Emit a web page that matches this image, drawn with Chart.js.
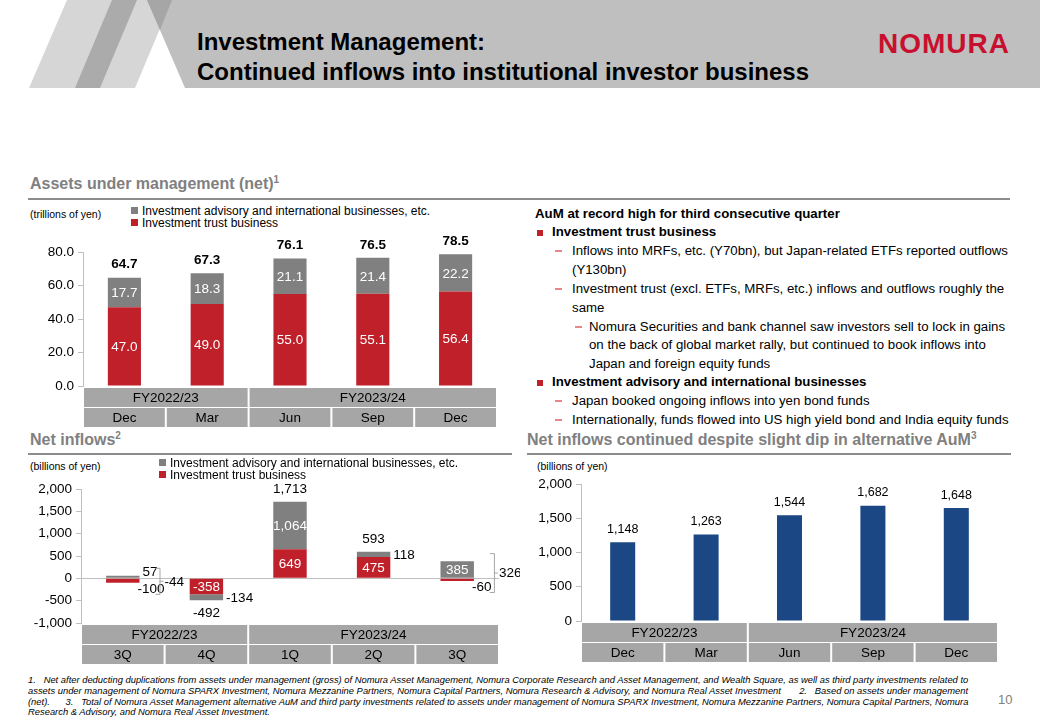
<!DOCTYPE html>
<html>
<head>
<meta charset="utf-8">
<script src="https://cdn.jsdelivr.net/npm/chart.js@4.4.0/dist/chart.umd.min.js"></script>
<style>
  body { margin: 0; width: 1040px; height: 720px; position: relative; overflow: hidden; background: #fff;
         font-family: "Liberation Sans", Arial, sans-serif; color: #000; }
  .abs { position: absolute; white-space: nowrap; }
  .title { left: 197px; font-size: 24px; font-weight: bold; line-height: 28px; }
  .head { font-size: 16px; font-weight: bold; color: #808080; line-height: 18px; }
  .head sup { font-size: 10px; vertical-align: 6px; line-height: 0; }
  .rule { height: 2px; background: #8c8c8c; }
  .unit { font-size: 10.5px; line-height: 12px; }
  .leg { font-size: 12px; line-height: 12px; }
  .leg i { display: inline-block; width: 7px; height: 7px; margin-right: 4px; vertical-align: 1px; }
  .txt { font-size: 13.25px; line-height: 16px; }
  .b { font-weight: bold; }
  .sq { width: 6px; height: 6px; background: #c0202a; }
  .dash { width: 7px; height: 1.5px; background: #e8868b; }
  .foot { left: 28px; font-family: "Liberation Sans Narrow", "Liberation Sans", Arial, sans-serif; font-style: italic;
          font-size: 9.4px; line-height: 10px; }
  canvas { position: absolute; }
</style>
</head>
<body>

<svg class="abs" style="left:0;top:0" width="1040" height="90">
  <polygon points="29,88 67,0 172,0 135,88" fill="#d6d6d6"/>
  <polygon points="75,88 112,0 137,0 100,88" fill="#ababab"/>
  <polygon points="147,0 1040,0 1040,88 185,88" fill="#bfbfbf"/>
  <polygon points="147,0 172,0 160,30" fill="#a6a6a6"/>
</svg>
<div class="abs title" style="top:28px">Investment Management:</div>
<div class="abs title" style="top:58px">Continued inflows into institutional investor business</div>
<div class="abs" style="left:878px;top:28px;font-size:28px;font-weight:bold;color:#c8102e;line-height:32px;letter-spacing:1px">NOMURA</div>

<div class="abs head" style="left:30px;top:175px">Assets under management (net)<sup>1</sup></div>
<div class="abs rule" style="left:28px;top:198px;width:982px"></div>
<div class="abs unit" style="left:30px;top:208px">(trillions of yen)</div>
<div class="abs leg" id="leg1" style="left:131px;top:205px"></div>

<div class="abs head" style="left:30px;top:431px">Net inflows<sup>2</sup></div>
<div class="abs rule" style="left:28px;top:453px;width:484px"></div>
<div class="abs unit" style="left:30px;top:460px">(billions of yen)</div>

<div class="abs head" style="left:527px;top:431px">Net inflows continued despite slight dip in alternative AuM<sup>3</sup></div>
<div class="abs rule" style="left:527px;top:453px;width:484px"></div>
<div class="abs unit" style="left:537px;top:460px">(billions of yen)</div>

<div class="abs txt b" style="left:535px;top:206px">AuM at record high for third consecutive quarter</div>
<div class="abs sq" style="left:537px;top:230px"></div>
<div class="abs txt b" style="left:552px;top:224px">Investment trust business</div>
<div class="abs dash" style="left:555px;top:250px"></div>
<div class="abs txt" style="left:572px;top:243px">Inflows into MRFs, etc. (Y70bn), but Japan-related ETFs reported outflows</div>
<div class="abs txt" style="left:572px;top:262px">(Y130bn)</div>
<div class="abs dash" style="left:555px;top:288px"></div>
<div class="abs txt" style="left:572px;top:281px">Investment trust (excl. ETFs, MRFs, etc.) inflows and outflows roughly the</div>
<div class="abs txt" style="left:572px;top:300px">same</div>
<div class="abs dash" style="left:575px;top:326px"></div>
<div class="abs txt" style="left:589px;top:319px">Nomura Securities and bank channel saw investors sell to lock in gains</div>
<div class="abs txt" style="left:589px;top:337px">on the back of global market rally, but continued to book inflows into</div>
<div class="abs txt" style="left:589px;top:356px">Japan and foreign equity funds</div>
<div class="abs sq" style="left:537px;top:380px"></div>
<div class="abs txt b" style="left:552px;top:374px">Investment advisory and international businesses</div>
<div class="abs dash" style="left:555px;top:400px"></div>
<div class="abs txt" style="left:572px;top:393px">Japan booked ongoing inflows into yen bond funds</div>
<div class="abs dash" style="left:555px;top:419px"></div>
<div class="abs txt" style="left:572px;top:412px">Internationally, funds flowed into US high yield bond and India equity funds</div>

<canvas id="aumChart" width="520" height="200" style="left:0;top:230px"></canvas>
<canvas id="flowChart" width="520" height="200" style="left:0;top:470px"></canvas>
<canvas id="altChart" width="520" height="200" style="left:520px;top:470px"></canvas>
<div class="abs leg" id="leg2" style="left:159px;top:457px"></div>

<div class="abs foot" style="top:675px">1.&nbsp;&nbsp; Net after deducting duplications from assets under management (gross) of Nomura Asset Management, Nomura Corporate Research and Asset Management, and Wealth Square, as well as third party investments related to</div>
<div class="abs foot" style="top:686px">assets under management of Nomura SPARX Investment, Nomura Mezzanine Partners, Nomura Capital Partners, Nomura Research &amp; Advisory, and Nomura Real Asset Investment&nbsp;&nbsp;&nbsp;&nbsp;&nbsp;&nbsp; 2.&nbsp;&nbsp; Based on assets under management</div>
<div class="abs foot" style="top:697px">(net).&nbsp;&nbsp;&nbsp;&nbsp;&nbsp; 3.&nbsp;&nbsp; Total of Nomura Asset Management alternative AuM and third party investments related to assets under management of Nomura SPARX Investment, Nomura Mezzanine Partners, Nomura Capital Partners, Nomura</div>
<div class="abs foot" style="top:707px">Research &amp; Advisory, and Nomura Real Asset Investment.</div>
<div class="abs" style="left:998px;top:692px;font-size:13px;color:#808080">10</div>

<script>
const months = ['Dec', 'Mar', 'Jun', 'Sep', 'Dec'];
const quarters = ['3Q', '4Q', '1Q', '2Q', '3Q'];
const fiscalYears = ['FY2022/23', 'FY2023/24'];
const fiscalYearSpans = [2, 3];

const seriesNames = ['Investment trust business', 'Investment advisory and international businesses, etc.'];

// AuM (trillions of yen)
const aumTrust = [47.0, 49.0, 55.0, 55.1, 56.4];
const aumAdvisory = [17.7, 18.3, 21.1, 21.4, 22.2];
const aumTotals = [64.7, 67.3, 76.1, 76.5, 78.5];
const aumTicks = [0, 80, 20];

// Net inflows (billions of yen)
const flowTrust = [-100, -358, 649, 475, -60];
const flowAdvisory = [57, -134, 1064, 118, 385];
const flowTotals = [-44, -492, 1713, 593, 326];
const flowTicks = [-1000, 2000, 500];

// Alternative AuM (billions of yen)
const altAum = [1148, 1263, 1544, 1682, 1648];
const altTicks = [0, 2000, 500];

const RED = '#c0202a';
const GREY = '#808080';
const BLUE = '#1b4785';
const FONT = '"Liberation Sans", Arial, sans-serif';

Chart.defaults.font.family = FONT;
Chart.defaults.color = '#000';

const fmt1 = v => v.toFixed(1);
const fmtInt = v => v.toLocaleString('en-US');

// légendes HTML (gris en premier, rouge en dessous)
['leg1', 'leg2'].forEach(id => {
  document.getElementById(id).innerHTML =
    '<div><i style="background:' + GREY + '"></i>' + seriesNames[1] + '</div>' +
    '<div><i style="background:' + RED + '"></i>' + seriesNames[0] + '</div>';
});

// Plugin : tableau des périodes sous l'axe
const periodTable = {
  id: 'periodTable',
  afterDraw(chart, args, opts) {
    const { ctx, chartArea } = chart;
    const x = chart.scales.x;
    const labels = chart.data.labels;
    const n = labels.length;
    const edge = i => i <= 0 ? chartArea.left
      : i >= n ? chartArea.right
      : (x.getPixelForValue(i - 1) + x.getPixelForValue(i)) / 2;
    const top = chartArea.bottom + 2;
    const h = 19;
    ctx.save();
    ctx.font = '13.5px ' + FONT;
    ctx.textAlign = 'center';
    ctx.textBaseline = 'middle';
    const cell = (x0, x1, y, text) => {
      ctx.fillStyle = '#a6a6a6';
      ctx.fillRect(x0 + 1, y, x1 - x0 - 2, h);
      ctx.fillStyle = '#000';
      ctx.fillText(text, (x0 + x1) / 2, y + h / 2 + 1);
    };
    let start = 0;
    fiscalYears.forEach((fy, k) => {
      const end = start + fiscalYearSpans[k];
      cell(edge(start), edge(end), top, fy);
      start = end;
    });
    labels.forEach((lab, i) => cell(edge(i), edge(i + 1), top + h + 1, lab));
    ctx.restore();
  }
};

// Plugin : étiquettes des barres et totaux
const barLabels = {
  id: 'barLabels',
  afterDatasetsDraw(chart, args, opts) {
    const { ctx } = chart;
    ctx.save();
    const n = chart.data.labels.length;
    const tops = Array(n).fill(Infinity), bottoms = Array(n).fill(-Infinity), rights = [], xs = [];
    chart.data.datasets.forEach((ds, d) => {
      chart.getDatasetMeta(d).data.forEach((bar, i) => {
        const top = Math.min(bar.y, bar.base), bottom = Math.max(bar.y, bar.base);
        const right = bar.x + bar.width / 2;
        tops[i] = Math.min(tops[i], top);
        bottoms[i] = Math.max(bottoms[i], bottom);
        rights[i] = right; xs[i] = bar.x;
        const pos = opts.positions[d][i];
        const text = opts.format(ds.data[i]);
        ctx.font = opts.font;
        ctx.fillStyle = '#000';
        if (pos === 'inside') {
          ctx.fillStyle = '#fff'; ctx.textAlign = 'center'; ctx.textBaseline = 'middle';
          ctx.fillText(text, bar.x, (top + bottom) / 2 + 1);
        } else if (pos === 'above') {
          ctx.textAlign = 'center'; ctx.textBaseline = 'middle';
          ctx.fillText(text, bar.x, top - 13);
        } else if (pos === 'right') {
          ctx.textAlign = 'left'; ctx.textBaseline = 'middle';
          ctx.fillText(text, right + 3, (top + bottom) / 2 + 1);
        } else if (pos === 'aboveRight') {
          ctx.textAlign = 'left'; ctx.textBaseline = 'bottom';
          ctx.fillText(text, right + 3, top + 3);
        } else if (pos === 'belowRight') {
          ctx.textAlign = 'left'; ctx.textBaseline = 'top';
          ctx.fillText(text, right - 2, bottom);
        }
      });
    });
    if (opts.totals) {
      ctx.font = opts.totalFont;
      ctx.fillStyle = '#000';
      opts.totals.forEach((v, i) => {
        const pos = opts.totalPositions[i];
        const text = opts.format(v);
        if (pos === 'above') {
          ctx.textAlign = 'center'; ctx.textBaseline = 'middle';
          ctx.fillText(text, xs[i], tops[i] - 13);
        } else if (pos === 'below') {
          ctx.textAlign = 'center'; ctx.textBaseline = 'middle';
          ctx.fillText(text, xs[i], bottoms[i] + 13);
        } else if (pos === 'bracket') {
          const bx = rights[i] + 20, y0 = tops[i] - 8, y1 = bottoms[i] + 11, ym = (y0 + y1) / 2;
          ctx.strokeStyle = '#a6a6a6'; ctx.lineWidth = 1;
          ctx.beginPath();
          ctx.moveTo(bx - 4, y0 + 0.5); ctx.lineTo(bx + 0.5, y0 + 0.5); ctx.lineTo(bx + 0.5, y1 + 0.5); ctx.lineTo(bx - 4, y1 + 0.5);
          ctx.moveTo(bx, ym + 0.5); ctx.lineTo(bx + 4, ym + 0.5);
          ctx.stroke();
          ctx.textAlign = 'left'; ctx.textBaseline = 'middle';
          ctx.fillText(text, bx + 5, ym + 1);
        }
      });
    }
    ctx.restore();
  }
};

function yAxis(ticks, width, fmt, zeroLine) {
  return {
    min: ticks[0], max: ticks[1],
    ticks: { stepSize: ticks[2], color: '#000', font: { size: 13.5 }, padding: 4, callback: v => fmt(v) },
    grid: {
      drawOnChartArea: !!zeroLine, tickLength: 5, tickColor: '#bfbfbf',
      color: c => (zeroLine && c.tick && c.tick.value === 0) ? '#bfbfbf' : 'rgba(0,0,0,0)'
    },
    border: { color: '#bfbfbf' },
    afterFit(scale) { scale.width = width; }
  };
}

const baseOptions = (padding, y, labelOpts, barPct) => ({
  responsive: false,
  animation: false,
  devicePixelRatio: 1,
  layout: { padding },
  datasets: { bar: { categoryPercentage: 1, barPercentage: barPct } },
  scales: { x: { display: false, stacked: true }, y: Object.assign({ stacked: true }, y) },
  plugins: { legend: { display: false }, tooltip: { enabled: false }, barLabels: labelOpts, periodTable: {} }
});

// Graphique 1 : AuM
new Chart(document.getElementById('aumChart'), {
  type: 'bar',
  data: {
    labels: months,
    datasets: [
      { label: seriesNames[0], data: aumTrust, backgroundColor: RED },
      { label: seriesNames[1], data: aumAdvisory, backgroundColor: GREY }
    ]
  },
  options: baseOptions({ top: 22, bottom: 44, left: 0, right: 23 }, yAxis(aumTicks, 83, fmt1, false), {
    positions: [Array(5).fill('inside'), Array(5).fill('inside')],
    format: fmt1,
    font: '13.5px ' + FONT,
    totals: aumTotals,
    totalPositions: Array(5).fill('above'),
    totalFont: 'bold 13.5px ' + FONT
  }, 0.4),
  plugins: [barLabels, periodTable]
});

// Graphique 2 : flux nets
new Chart(document.getElementById('flowChart'), {
  type: 'bar',
  data: {
    labels: quarters,
    datasets: [
      { label: seriesNames[0], data: flowTrust, backgroundColor: RED },
      { label: seriesNames[1], data: flowAdvisory, backgroundColor: GREY }
    ]
  },
  options: baseOptions({ top: 19, bottom: 47, left: 0, right: 21 }, yAxis(flowTicks, 81, fmtInt, true), {
    positions: [
      ['belowRight', 'inside', 'inside', 'inside', 'belowRight'],
      ['aboveRight', 'right', 'inside', 'right', 'inside']
    ],
    format: fmtInt,
    font: '13.5px ' + FONT,
    totals: flowTotals,
    totalPositions: ['bracket', 'below', 'above', 'above', 'bracket'],
    totalFont: '13.5px ' + FONT
  }, 0.4),
  plugins: [barLabels, periodTable]
});

// Graphique 3 : AuM alternatifs
new Chart(document.getElementById('altChart'), {
  type: 'bar',
  data: {
    labels: months,
    datasets: [
      { label: 'Alternative AuM', data: altAum, backgroundColor: BLUE }
    ]
  },
  options: baseOptions({ top: 14, bottom: 49, left: 0, right: 42 }, yAxis(altTicks, 61, fmtInt, false), {
    positions: [Array(5).fill('above')],
    format: fmtInt,
    font: '12.5px ' + FONT
  }, 0.3),
  plugins: [barLabels, periodTable]
});
</script>
</body>
</html>
